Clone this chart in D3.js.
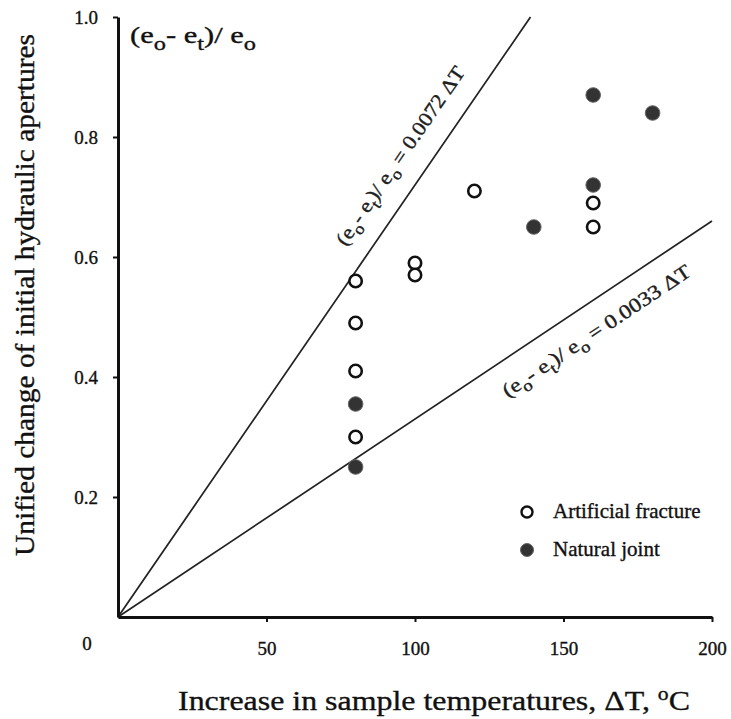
<!DOCTYPE html>
<html>
<head>
<meta charset="utf-8">
<script src="https://cdn.jsdelivr.net/npm/d3@7"></script>
<style>
  body { margin: 0; background: #fff; }
  svg { font-family: 'Liberation Serif', 'DejaVu Serif', serif; }
  svg text { stroke: #111; stroke-width: 0.35px; }
  .axis path, .axis line { stroke: #111; }
  .axis text { font-size: 19px; fill: #111; font-family: 'Liberation Serif', serif; }
</style>
</head>
<body>
<div id="chart"></div>
<script>
// data
const artificialT = [80, 80, 80, 80, 100, 100, 120, 160, 160];
const artificialE = [0.56, 0.49, 0.41, 0.30, 0.59, 0.57, 0.71, 0.69, 0.65];
const naturalT = [80, 80, 140, 160, 160, 180];
const naturalE = [0.355, 0.25, 0.65, 0.72, 0.87, 0.84];
const fitSlopes = ['0.0072', '0.0033'];
const xTicks = [50, 100, 150, 200];
const yTicks = [0.2, 0.4, 0.6, 0.8, 1.0];
const legendLabels = ['Artificial fracture', 'Natural joint'];

const W = 731, H = 719;

const svg = d3.select('#chart').append('svg')
    .attr('width', W)
    .attr('height', H);

const x = d3.scaleLinear().domain([0, 200]).range([118, 712]);
const y = d3.scaleLinear().domain([0, 1]).range([617, 17]);

// formula "(e_o - e_t)/ e_o" with subscripts, fs = base font size
function formula(text, fs, tail){
    let parts = [['(e', 0], ['o', 1], ['- e', 0], ['t', 1], [')/ e', 0], ['o', 1]];
    if(tail) parts.push([tail, 0]);
    let shift = fs * 0.3;
    let prev = 0;
    parts.forEach(p => {
        let dy = 0;
        if(p[1] && !prev) dy = shift;
        if(!p[1] && prev) dy = -shift;
        text.append('tspan')
            .attr('dy', dy)
            .style('font-size', (p[1] ? fs * 0.8 : fs) + 'px')
            .text(p[0]);
        prev = p[1];
    });
}

// fitted lines
fitSlopes.forEach((s, i) => {
    let k = +s;
    let tEnd = Math.min(200, 1 / k);
    svg.append('line')
        .attr('x1', x(0)).attr('y1', y(0))
        .attr('x2', x(tEnd)).attr('y2', y(k * tEnd))
        .attr('stroke', '#222')
        .attr('stroke-width', 1.7);
});

// line labels, placed along each line
const labelT = [103, 156];
const labelOffset = [-22, 34];
const labelLen = [212, 222];
fitSlopes.forEach((s, i) => {
    let k = +s;
    let t = labelT[i];
    let px = x(t), py = y(k * t);
    let ang = Math.atan2(y(k) - y(0), x(1) - x(0)) * 180 / Math.PI;
    let g = svg.append('g')
        .attr('transform', 'translate(' + px + ',' + py + ') rotate(' + ang + ')');
    let txt = g.append('text')
        .attr('text-anchor', 'middle')
        .attr('y', labelOffset[i])
        .attr('textLength', labelLen[i])
        .attr('lengthAdjust', 'spacingAndGlyphs')
        .style('fill', '#222');
    formula(txt, 20, ' = ' + s + ' \u0394T');
});

// axes
const yAxis = d3.axisLeft(y)
    .tickValues(yTicks)
    .tickSize(5)
    .tickSizeOuter(0)
    .tickPadding(15)
    .tickFormat(d3.format('.1f'));

const xAxis = d3.axisBottom(x)
    .tickValues(xTicks)
    .tickSize(5)
    .tickSizeOuter(0)
    .tickPadding(20);

const gy = svg.append('g')
    .attr('class', 'axis')
    .attr('transform', 'translate(' + x(0) + ',0)')
    .call(yAxis);

const gx = svg.append('g')
    .attr('class', 'axis')
    .attr('transform', 'translate(0,' + y(0) + ')')
    .call(xAxis);

gx.select('.domain').attr('stroke-width', 3);
gy.select('.domain').attr('stroke-width', 3);
svg.selectAll('.tick line').attr('stroke-width', 2);

svg.append('text')
    .attr('x', 87)
    .attr('y', 650)
    .attr('text-anchor', 'middle')
    .style('font-size', '19px')
    .style('fill', '#111')
    .text('0');

// y-title inside the plot
const title = svg.append('text')
    .attr('x', 130)
    .attr('y', 43)
    .attr('textLength', 126)
    .attr('lengthAdjust', 'spacingAndGlyphs')
    .style('fill', '#111');
formula(title, 24);

// axis titles
svg.append('text')
    .attr('transform', 'translate(34,' + 295 + ') rotate(-90)')
    .attr('text-anchor', 'middle')
    .attr('textLength', 522)
    .attr('lengthAdjust', 'spacingAndGlyphs')
    .style('font-size', '28px')
    .style('fill', '#111')
    .text('Unified change of initial hydraulic apertures');

const xl = svg.append('text')
    .attr('x', 434)
    .attr('y', 710)
    .attr('text-anchor', 'middle')
    .attr('textLength', 512)
    .attr('lengthAdjust', 'spacingAndGlyphs')
    .style('font-size', '28px')
    .style('fill', '#111');
xl.append('tspan').text('Increase in sample temperatures, \u0394T,  ');
xl.append('tspan').attr('dy', -10).style('font-size', '19px').text('o');
xl.append('tspan').attr('dy', 10).text('C');

// points
const artificial = artificialT.map((t, i) => ({t: t, e: artificialE[i]}));
const natural = naturalT.map((t, i) => ({t: t, e: naturalE[i]}));

svg.selectAll('circle.open')
    .data(artificial)
    .enter()
    .append('circle')
    .attr('class', 'open')
    .attr('cx', d => x(d.t))
    .attr('cy', d => y(d.e))
    .attr('r', 6.2)
    .style('fill', '#fff')
    .style('stroke', '#111')
    .style('stroke-width', 2.6);

svg.selectAll('circle.filled')
    .data(natural)
    .enter()
    .append('circle')
    .attr('class', 'filled')
    .attr('cx', d => x(d.t))
    .attr('cy', d => y(d.e))
    .attr('r', 7.3)
    .style('fill', '#333')
    .style('stroke', '#666')
    .style('stroke-width', 1);

// legend
const lg = svg.append('g').attr('transform', 'translate(527,512)');
legendLabels.forEach((l, i) => {
    lg.append('circle')
        .attr('cx', 0)
        .attr('cy', i * 38)
        .attr('r', i ? 6.5 : 5.5)
        .style('fill', i ? '#333' : '#fff')
        .style('stroke', i ? '#666' : '#111')
        .style('stroke-width', i ? 1 : 2.4);
    lg.append('text')
        .attr('x', 26)
        .attr('y', i * 38 + 6)
        .style('font-size', '21px')
        .style('fill', '#111')
        .text(l);
});
</script>
</body>
</html>
